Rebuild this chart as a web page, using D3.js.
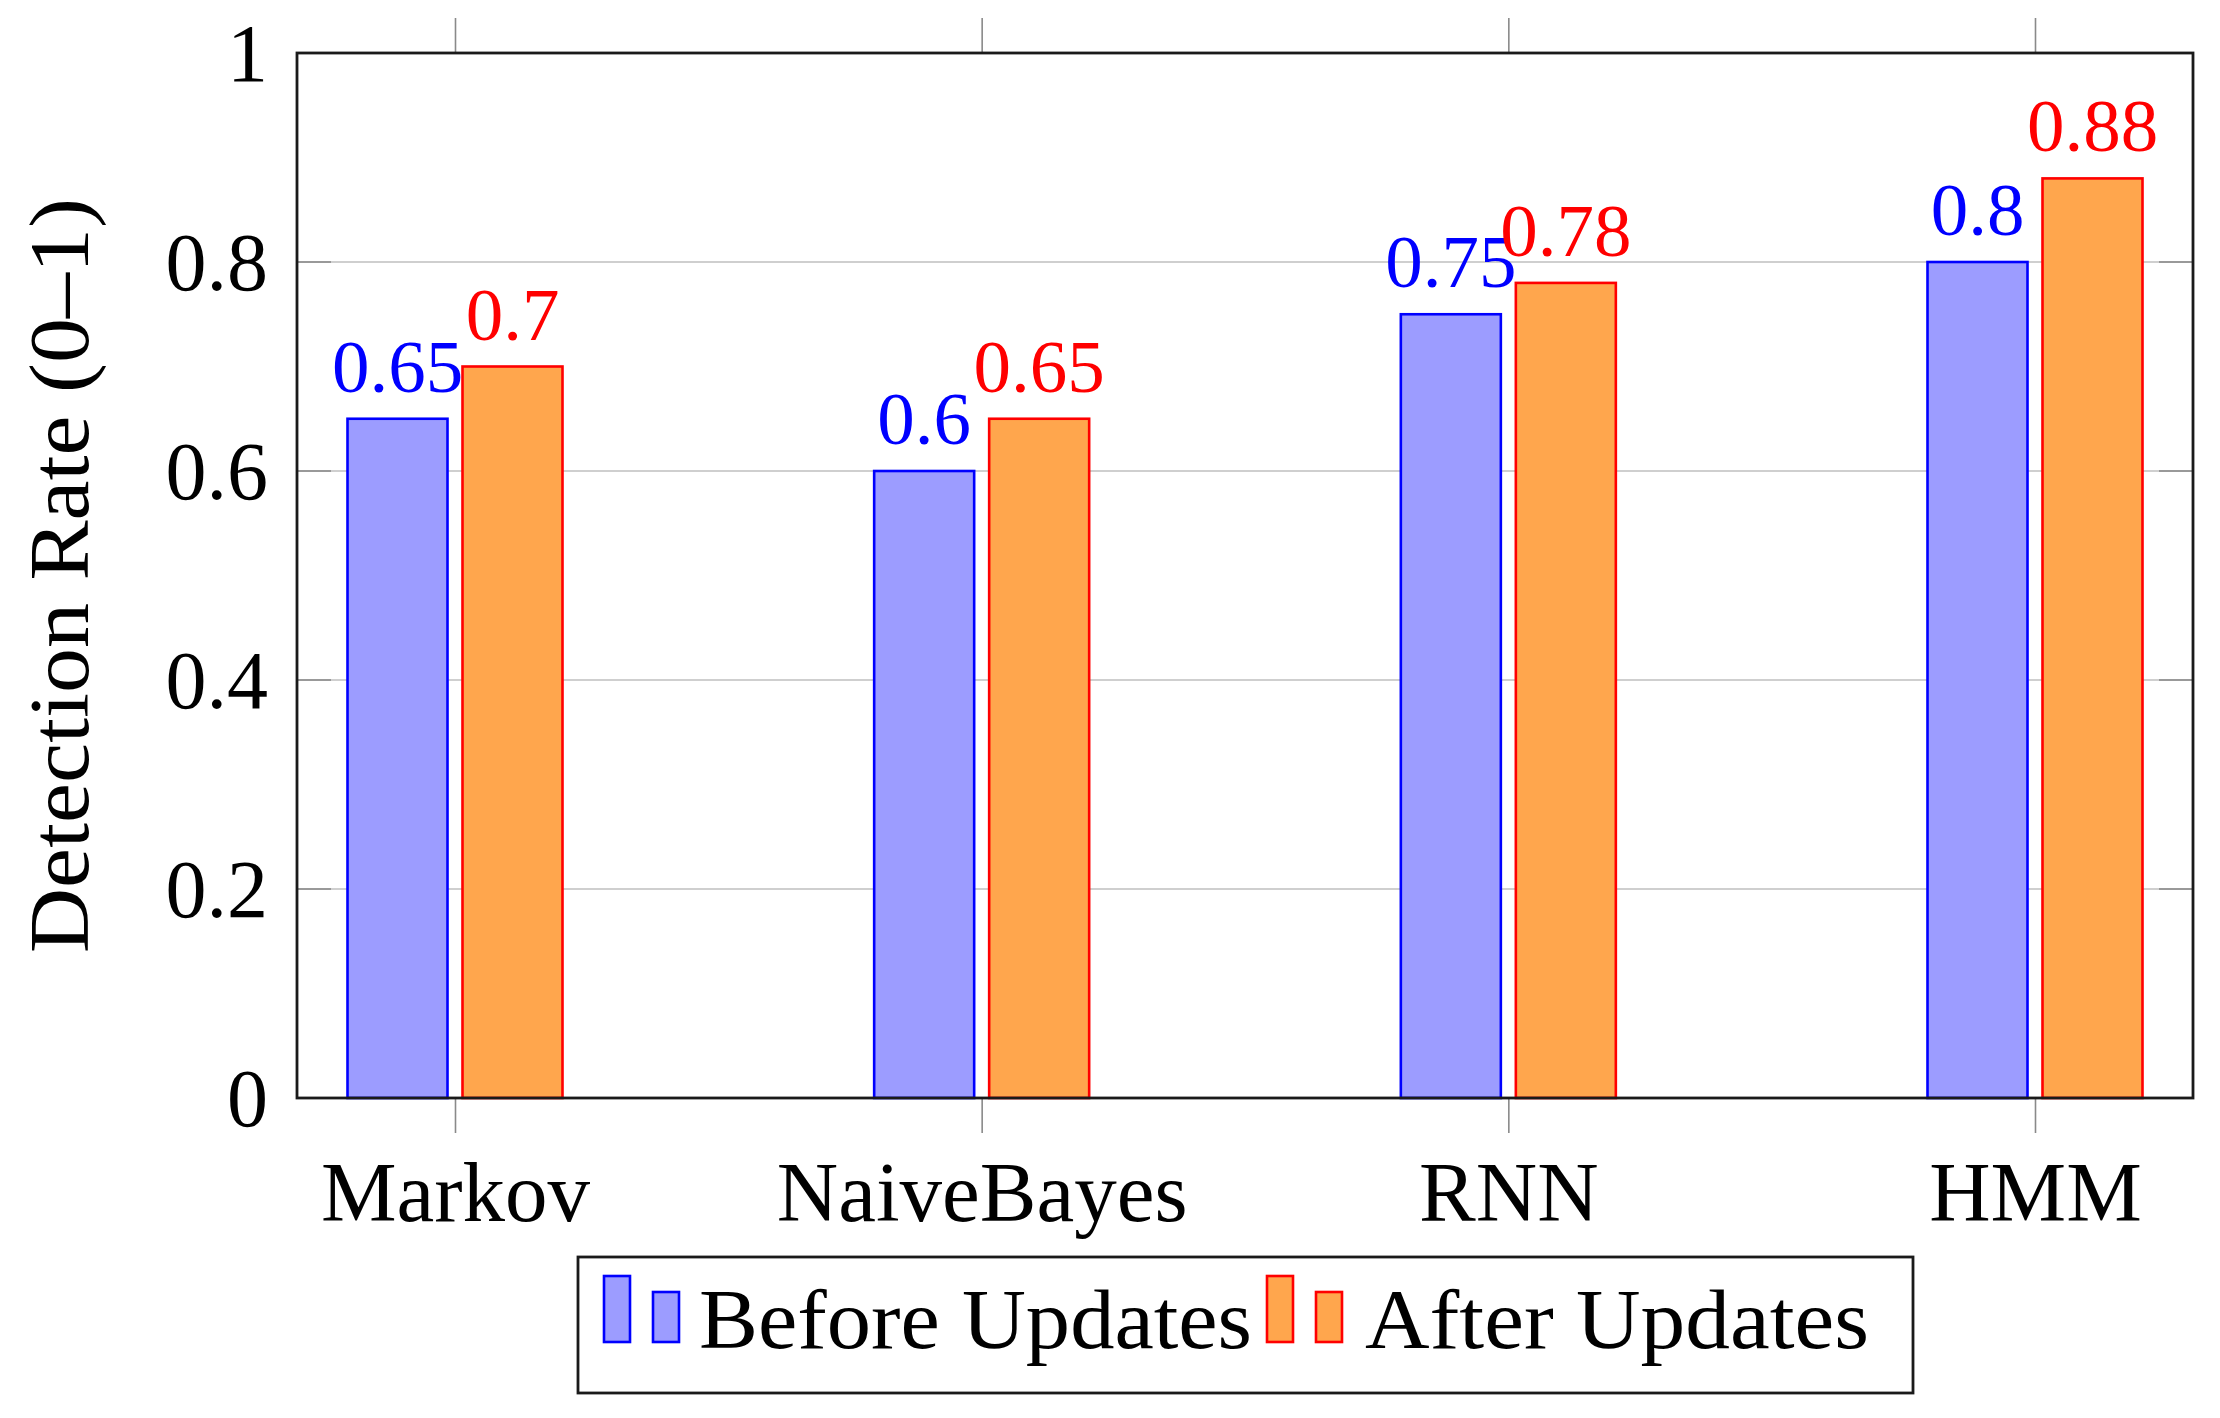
<!DOCTYPE html>
<html>
<head>
<meta charset="utf-8">
<script src="https://cdn.jsdelivr.net/npm/d3@7"></script>
<style>
  html, body { margin: 0; padding: 0; background: #ffffff; }
  svg { display: block; }
  text { font-family: "Liberation Serif", "Times New Roman", serif; }
</style>
</head>
<body>
<svg id="chart" width="2220" height="1418"></svg>
<script>
// ---- data ----
const categories = ["Markov", "NaiveBayes", "RNN", "HMM"];
const beforeUpdates = [0.65, 0.60, 0.75, 0.80];
const afterUpdates  = [0.70, 0.65, 0.78, 0.88];
const seriesNames = ["Before Updates", "After Updates"];
const yTickValues = [0, 0.2, 0.4, 0.6, 0.8, 1];
const yTickLabels = ["0", "0.2", "0.4", "0.6", "0.8", "1"];

// ---- layout ----
const plot = { left: 297, right: 2193, top: 53, bottom: 1098 };
const svg = d3.select("#chart");

const x = d3.scalePoint().domain(categories).range([plot.left, plot.right]).padding(0.3);
const y = d3.scaleLinear().domain([0, 1]).range([plot.bottom, plot.top]);

const styles = [
  { fill: "#9c9cff", stroke: "#0000ff", label: "#0000ff" },
  { fill: "#ffa64d", stroke: "#ff0000", label: "#ff0000" }
];
const barW = 100;
const offsets = [-57.5, 57.5];

// grid lines
svg.append("g").selectAll("line").data(yTickValues).join("line")
  .attr("x1", plot.left).attr("x2", plot.right)
  .attr("y1", d => y(d)).attr("y2", d => y(d))
  .attr("stroke", "#cfcfcf").attr("stroke-width", 2.2);

// y ticks inside (left and right)
const yTickG = svg.append("g");
yTickG.selectAll("line.l").data(yTickValues).join("line").attr("class", "l")
  .attr("x1", plot.left).attr("x2", plot.left + 34)
  .attr("y1", d => y(d)).attr("y2", d => y(d))
  .attr("stroke", "#999999").attr("stroke-width", 2.2);
yTickG.selectAll("line.r").data(yTickValues).join("line").attr("class", "r")
  .attr("x1", plot.right - 34).attr("x2", plot.right)
  .attr("y1", d => y(d)).attr("y2", d => y(d))
  .attr("stroke", "#999999").attr("stroke-width", 2.2);

// y tick labels
svg.append("g").selectAll("text").data(yTickValues).join("text")
  .attr("x", plot.left - 29)
  .attr("y", d => y(d) + 28)
  .attr("text-anchor", "end")
  .attr("font-size", 82)
  .attr("fill", "#000")
  .text((d, i) => yTickLabels[i]);

// x axes (ticks outside, top and bottom)
const xAxisBottom = svg.append("g")
  .attr("transform", `translate(0,${plot.bottom})`)
  .call(d3.axisBottom(x).tickSize(35).tickPadding(10));
xAxisBottom.select(".domain").remove();
xAxisBottom.selectAll(".tick line").attr("stroke", "#8a8a8a").attr("stroke-width", 1.6);
xAxisBottom.selectAll(".tick text")
  .attr("font-family", "Liberation Serif, Times New Roman, serif")
  .attr("font-size", 85).attr("fill", "#000")
  .attr("dy", null).attr("y", 123);

const xAxisTop = svg.append("g")
  .attr("transform", `translate(0,${plot.top})`)
  .call(d3.axisTop(x).tickSize(35).tickFormat(""));
xAxisTop.select(".domain").remove();
xAxisTop.selectAll(".tick line").attr("stroke", "#8a8a8a").attr("stroke-width", 1.6);

// bars + value labels, series by series
[beforeUpdates, afterUpdates].forEach((vals, s) => {
  const g = svg.append("g");
  g.selectAll("rect").data(vals).join("rect")
    .attr("x", (d, i) => x(categories[i]) + offsets[s] - barW / 2)
    .attr("y", d => y(d))
    .attr("width", barW)
    .attr("height", d => y(0) - y(d))
    .attr("fill", styles[s].fill)
    .attr("stroke", styles[s].stroke)
    .attr("stroke-width", 2.6);
  g.selectAll("text").data(vals).join("text")
    .attr("x", (d, i) => x(categories[i]) + offsets[s])
    .attr("y", d => y(d) - 27)
    .attr("text-anchor", "middle")
    .attr("font-size", 75)
    .attr("fill", styles[s].label)
    .text(d => String(d));
});

// frame
svg.append("rect")
  .attr("x", plot.left).attr("y", plot.top)
  .attr("width", plot.right - plot.left).attr("height", plot.bottom - plot.top)
  .attr("fill", "none").attr("stroke", "#1a1a1a").attr("stroke-width", 2.8);

// y axis title
svg.append("text")
  .attr("transform", `translate(88,${(plot.top + plot.bottom) / 2}) rotate(-90)`)
  .attr("text-anchor", "middle")
  .attr("font-size", 84)
  .attr("textLength", 755)
  .attr("lengthAdjust", "spacingAndGlyphs")
  .attr("fill", "#000")
  .text("Detection Rate (0–1)");

// legend
const leg = svg.append("g");
leg.append("rect")
  .attr("x", 578).attr("y", 1257).attr("width", 1335).attr("height", 136)
  .attr("fill", "#fff").attr("stroke", "#1a1a1a").attr("stroke-width", 2.8);
const legendItems = [
  { x0: 604, tx: 699, tl: 553 },
  { x0: 1267, tx: 1365, tl: 504 }
];
legendItems.forEach((it, s) => {
  leg.append("rect").attr("x", it.x0).attr("y", 1276).attr("width", 26).attr("height", 66)
    .attr("fill", styles[s].fill).attr("stroke", styles[s].stroke).attr("stroke-width", 2.6);
  leg.append("rect").attr("x", it.x0 + 49).attr("y", 1292).attr("width", 26).attr("height", 50)
    .attr("fill", styles[s].fill).attr("stroke", styles[s].stroke).attr("stroke-width", 2.6);
  leg.append("text").attr("x", it.tx).attr("y", 1348)
    .attr("font-size", 84).attr("fill", "#000")
    .attr("textLength", it.tl).attr("lengthAdjust", "spacingAndGlyphs")
    .text(seriesNames[s]);
});
</script>
</body>
</html>
